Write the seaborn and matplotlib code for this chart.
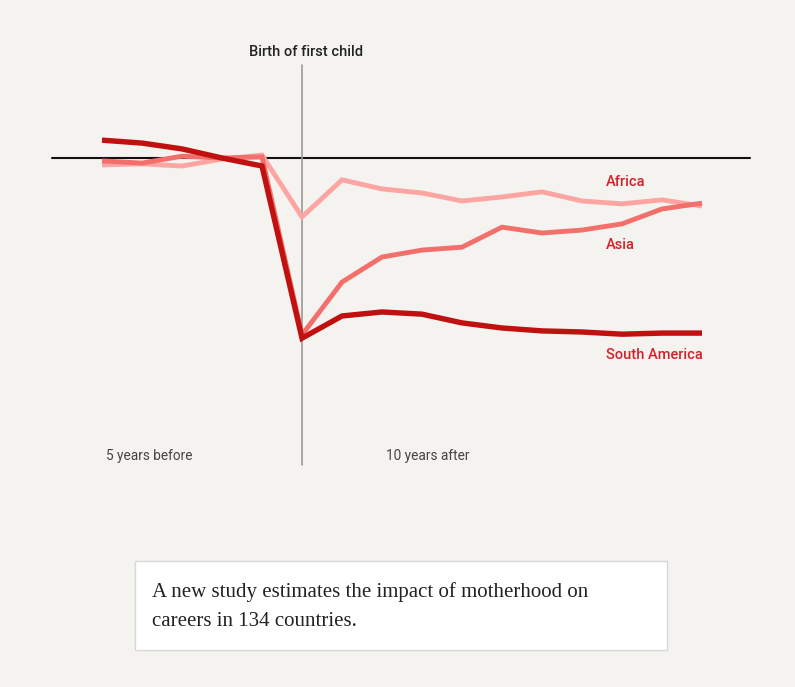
import pandas as pd
import matplotlib.pyplot as plt
import seaborn as sns
from matplotlib.patches import Rectangle

# Dados (variação em %, anos em relação ao primeiro filho)
anos = list(range(-5, 11))
south_america = [4.9, 4.1, 2.5, 0.0, -2.2, -49.5, -43.4, -42.3, -42.9, -45.3, -46.7, -47.5, -47.8, -48.4, -48.1, -48.1]
asia = [-0.8, -1.4, 0.5, 0.0, 0.3, -48.6, -34.1, -27.2, -25.3, -24.5, -19.0, -20.6, -19.8, -18.1, -14.0, -12.4]
africa = [-1.9, -1.6, -2.2, -0.3, 0.8, -16.2, -6.0, -8.5, -9.6, -11.8, -10.7, -9.3, -11.8, -12.6, -11.5, -13.2]
regioes = ["Africa", "Asia", "South America"]
cores = {"Africa": "#fca5a2", "Asia": "#f36f6b", "South America": "#c0100f"}

df = pd.DataFrame({
    "ano": anos * 3,
    "valor": africa + asia + south_america,
    "regiao": ["Africa"] * 16 + ["Asia"] * 16 + ["South America"] * 16,
})

sns.set_style("white")
plt.rcParams["font.family"] = ["Roboto", "DejaVu Sans"]
bg = "#f5f3ef"

fig = plt.figure(figsize=(7.95, 6.87), dpi=100, facecolor=bg)
ax = fig.add_axes([0, 0, 1, 1])
ax.set_facecolor(bg)

# escala: 40 px por ano, 3.64 px por ponto percentual (linha zero em y=158 px)
ax.set_xlim(-5 - 102 / 40, -5 + (795 - 102) / 40)
ax.set_ylim(-(687 - 158) / 3.64, 158 / 3.64)

ax.plot([-6.25, 11.2], [0, 0], color="#111111", lw=1.5, zorder=1)
ax.plot([0, 0], [25.5, -84.3], color="#9a9a9a", lw=1.2, zorder=1)

sns.lineplot(data=df, x="ano", y="valor", hue="regiao", hue_order=regioes,
             palette=cores, linewidth=3.6, legend=False, ax=ax, zorder=3)
for linha, w in zip(ax.get_lines()[-3:], [3.5, 3.5, 3.9]):
    linha.set_linewidth(w)
    linha.set_solid_joinstyle("miter")
    linha.set_solid_capstyle("butt")

ax.set_axis_off()

# rótulos
cor_txt = "#d3212b"
ax.text(7.6, -6.6, "Africa", color=cor_txt, fontsize=10.5, va="center", ha="left", weight="medium")
ax.text(7.6, -23.9, "Asia", color=cor_txt, fontsize=10.5, va="center", ha="left", weight="medium")
ax.text(7.6, -54.1, "South America", color=cor_txt, fontsize=10.5, va="center", ha="left", weight="medium")
ax.text(0.1, 29.0, "Birth of first child", color="#222222", fontsize=10.5, va="center", ha="center", weight="medium")
ax.text(-4.9, -81.9, "5 years before", color="#444444", fontsize=9.8, va="center", ha="left")
ax.text(2.1, -81.9, "10 years after", color="#444444", fontsize=9.8, va="center", ha="left")

# caixa de texto
fig.patches.append(Rectangle((135 / 795, 1 - 650 / 687), 532 / 795, 89 / 687,
                             transform=fig.transFigure, facecolor="white",
                             edgecolor="#d8d8d8", lw=1, zorder=0))
fig.text(152 / 795, 1 - 592 / 687, "A new study estimates the impact of motherhood on",
         family="Liberation Serif", fontsize=15, color="#222222", va="center")
fig.text(152 / 795, 1 - 621 / 687, "careers in 134 countries.",
         family="Liberation Serif", fontsize=15, color="#222222", va="center")

plt.savefig("out.png", dpi=100, facecolor=bg)
